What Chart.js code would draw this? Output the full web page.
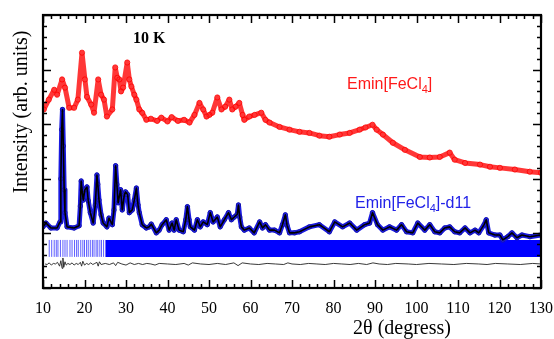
<!DOCTYPE html>
<html>
<head>
<meta charset="utf-8">
<script src="https://cdn.jsdelivr.net/npm/chart.js@4.4.1/dist/chart.umd.min.js"></script>
<style>
  html, body { margin: 0; padding: 0; background: #fff; }
</style>
</head>
<body>
<canvas id="xrdChart" width="554" height="339"></canvas>
<script>
// 2-theta / intensity (arb. units)

const xTicks = [10, 20, 30, 40, 50, 60, 70, 80, 90, 100, 110, 120, 130];

// Emin[FeCl4] (red, open circles)
const redX = [10.2, 11.4, 12.7, 13.4, 14.6, 15.3, 16.3, 17.5, 18.4, 19.4, 20.1, 20.6, 21.6, 22.3, 23.3, 24.0, 24.7, 25.4, 26.7, 27.4, 27.9, 28.4, 28.8, 29.3, 30.3, 30.8, 31.3, 32.0, 32.5, 33.2, 33.9, 34.9, 36.0, 37.5, 38.5, 40.0, 41.0, 42.5, 44.0, 45.3, 46.5, 47.7, 48.6, 49.4, 50.1, 50.8, 52.0, 53.0, 53.9, 54.9, 55.6, 56.4, 57.3, 58.1, 58.5, 59.7, 61.0, 62.6, 63.6, 64.6, 67.0, 69.4, 71.8, 74.2, 76.6, 79.0, 81.5, 83.9, 86.3, 87.7, 89.4, 90.4, 91.9, 94.3, 97.2, 100.8, 103.2, 105.6, 108.0, 109.2, 111.7, 115.3, 117.7, 120.1, 123.7, 127.3, 130];
const redY = [3.27, 3.45, 3.63, 3.54, 3.82, 3.67, 3.30, 3.30, 3.45, 4.31, 3.82, 3.50, 3.36, 3.21, 3.82, 3.54, 3.45, 3.14, 3.27, 4.04, 3.85, 3.82, 3.60, 3.67, 4.13, 3.82, 3.69, 3.54, 3.45, 3.27, 3.21, 3.08, 3.10, 3.06, 3.12, 3.05, 3.13, 3.06, 3.08, 3.03, 3.17, 3.39, 3.27, 3.14, 3.17, 3.21, 3.49, 3.27, 3.32, 3.45, 3.27, 3.32, 3.39, 3.17, 3.08, 3.14, 3.17, 3.21, 3.08, 3.03, 2.95, 2.90, 2.86, 2.84, 2.79, 2.77, 2.81, 2.84, 2.90, 2.94, 2.99, 2.90, 2.81, 2.66, 2.53, 2.40, 2.39, 2.40, 2.48, 2.35, 2.29, 2.26, 2.22, 2.20, 2.17, 2.13, 2.11];

// Emin[FeCl4]-d11 (blue observed, black calculated)
const blueX = [10.0, 10.7, 11.9, 13.4, 14.1, 14.3, 14.5, 14.7, 14.9, 15.1, 15.3, 15.8, 17.5, 18.7, 19.0, 19.2, 19.4, 19.7, 20.1, 20.6, 20.9, 21.4, 22.1, 22.6, 23.0, 23.2, 23.5, 24.0, 24.5, 25.4, 25.9, 26.7, 27.1, 27.5, 27.8, 28.1, 28.7, 29.1, 29.6, 29.9, 30.4, 30.8, 31.5, 32.0, 32.5, 32.9, 33.2, 33.9, 34.9, 35.6, 36.1, 37.3, 38.0, 38.7, 39.7, 40.4, 41.1, 41.6, 42.1, 42.8, 43.8, 44.4, 44.8, 45.2, 45.5, 46.5, 47.2, 47.9, 48.6, 49.6, 50.3, 51.0, 52.0, 52.7, 53.7, 54.7, 55.4, 56.1, 56.8, 57.1, 57.4, 57.8, 58.5, 59.7, 60.9, 62.2, 62.9, 63.6, 64.6, 65.8, 67.0, 67.7, 68.4, 68.8, 69.4, 70.6, 71.8, 74.2, 76.6, 79.0, 80.3, 82.2, 83.9, 85.6, 87.5, 88.7, 89.4, 90.6, 91.9, 93.5, 95.2, 96.4, 97.6, 99.1, 100.3, 102.0, 103.2, 104.4, 105.6, 106.8, 108.0, 109.2, 110.4, 111.7, 112.9, 114.1, 115.0, 116.3, 116.8, 117.4, 118.9, 120.1, 120.8, 122.0, 123.0, 124.2, 125.4, 127.3, 130];
const blueY = [1.12, 1.19, 1.10, 1.10, 1.21, 2.00, 2.90, 3.27, 2.60, 1.80, 1.38, 1.12, 1.10, 1.14, 1.50, 1.96, 1.80, 1.61, 1.80, 1.85, 1.60, 1.38, 1.19, 1.52, 2.07, 1.90, 1.61, 1.34, 1.19, 1.12, 1.28, 1.16, 1.43, 2.24, 1.90, 1.56, 1.80, 1.43, 1.71, 1.76, 1.71, 1.38, 1.43, 1.61, 1.83, 1.52, 1.38, 1.16, 1.10, 1.12, 1.17, 1.01, 1.06, 1.16, 1.25, 1.06, 1.19, 1.06, 1.25, 1.06, 1.03, 1.25, 1.49, 1.25, 1.12, 1.06, 1.25, 1.12, 1.21, 1.16, 1.38, 1.21, 1.30, 1.12, 1.25, 1.38, 1.25, 1.30, 1.35, 1.52, 1.30, 1.12, 1.06, 1.10, 1.01, 1.21, 1.10, 1.16, 1.06, 1.06, 1.01, 1.16, 1.34, 1.15, 1.01, 1.01, 1.03, 1.12, 1.16, 1.03, 1.21, 1.12, 1.19, 1.06, 1.16, 1.19, 1.38, 1.16, 1.06, 1.12, 1.06, 1.16, 1.03, 1.01, 1.19, 1.06, 1.16, 1.03, 1.01, 1.10, 1.12, 1.03, 1.01, 1.10, 1.01, 1.06, 1.01, 1.16, 1.25, 1.01, 0.97, 0.97, 0.88, 0.94, 1.01, 0.92, 0.97, 0.94, 0.97];

// Bragg positions: separate ticks at low angle, then a solid band
const braggPos = [11.5, 12.1, 12.7, 13.2, 13.6, 14.2, 14.8, 15.3, 15.8, 16.5, 17.0, 17.6, 18.1, 18.5, 19.1, 19.6, 20.0, 20.5, 20.9, 21.4, 21.9, 22.3, 22.8, 23.2, 23.7, 24.1, 24.6];
const braggBand = [25.0, 130.0];
const braggLevels = [0.57, 0.88];

// difference curve
const diffX = [10.5, 11, 11.5, 12, 12.5, 13, 13.5, 14, 14.3, 14.6, 14.8, 15.0, 15.3, 15.6, 16, 16.5, 17, 17.5, 18, 18.5, 19, 19.3, 19.6, 20, 20.5, 21, 21.5, 22, 22.5, 23, 23.3, 23.6, 24, 25, 26, 27, 27.5, 28, 29, 30, 31, 32, 33, 34, 35, 36, 37, 38, 40, 42, 44, 45, 46, 48, 50, 52, 54, 56, 57, 58, 60, 62, 64, 66, 68, 69, 70, 72, 74, 76, 78, 80, 82, 84, 86, 88, 89.5, 91, 93, 95, 98, 100, 103, 106, 109, 112, 115, 117, 119, 122, 125, 128, 130];
const diffY = [0.44, 0.43, 0.46, 0.42, 0.45, 0.44, 0.47, 0.40, 0.50, 0.36, 0.55, 0.38, 0.48, 0.42, 0.45, 0.43, 0.46, 0.42, 0.45, 0.43, 0.47, 0.40, 0.49, 0.42, 0.45, 0.43, 0.46, 0.43, 0.45, 0.47, 0.40, 0.48, 0.43, 0.45, 0.43, 0.46, 0.41, 0.47, 0.44, 0.42, 0.46, 0.43, 0.45, 0.43, 0.45, 0.44, 0.42, 0.45, 0.44, 0.43, 0.45, 0.42, 0.46, 0.44, 0.43, 0.45, 0.43, 0.46, 0.41, 0.46, 0.44, 0.43, 0.45, 0.44, 0.43, 0.46, 0.44, 0.43, 0.45, 0.44, 0.43, 0.45, 0.44, 0.43, 0.45, 0.43, 0.46, 0.44, 0.43, 0.45, 0.44, 0.43, 0.45, 0.44, 0.43, 0.45, 0.44, 0.43, 0.45, 0.44, 0.43, 0.45, 0.44];

const SERIF = "'Liberation Serif', 'Times New Roman', serif";
const SANS = "'Liberation Sans', Arial, sans-serif";

function zip(xs, ys) {
  return xs.map((x, i) => ({ x: x, y: ys[i] }));
}

function braggTicks() {
  const pts = [];
  braggPos.forEach((p) => {
    pts.push({ x: p, y: braggLevels[0] });
    pts.push({ x: p, y: braggLevels[1] });
    pts.push({ x: p, y: null });
  });
  return pts;
}

// frame with inward ticks on all four sides
const framePlugin = {
  id: "frame",
  afterDatasetsDraw(chart) {
    const ctx = chart.ctx;
    const a = chart.chartArea;
    const xs = chart.scales.x;
    const ys = chart.scales.y;
    ctx.save();
    ctx.strokeStyle = "#000";
    ctx.lineWidth = 1.5;
    ctx.beginPath();
    for (let i = 0; i <= 60; i++) {
      const v = 10 + i * 2;
      const px = Math.round(xs.getPixelForValue(v)) + 0.5;
      const len = i % 5 === 0 ? 8 : 4;
      ctx.moveTo(px, a.bottom);
      ctx.lineTo(px, a.bottom - len);
      ctx.moveTo(px, a.top);
      ctx.lineTo(px, a.top + len);
    }
    for (let i = 0; i <= 25; i++) {
      const v = i * 0.2;
      const py = Math.round(ys.getPixelForValue(v)) + 0.5;
      const len = i % 5 === 0 ? 8 : 4;
      ctx.moveTo(a.left, py);
      ctx.lineTo(a.left + len, py);
      ctx.moveTo(a.right, py);
      ctx.lineTo(a.right - len, py);
    }
    ctx.stroke();
    ctx.lineWidth = 2.2;
    ctx.strokeRect(a.left, a.top, a.right - a.left, a.bottom - a.top);
    ctx.restore();
  },
  afterDraw(chart) {
    const ctx = chart.ctx;
    ctx.save();
    ctx.textBaseline = "alphabetic";

    ctx.fillStyle = "#000";
    ctx.font = "bold 16px " + SERIF;
    ctx.fillText("10 K", 133, 43);

    // series labels with subscript 4
    const drawLabel = (x, y, color, tail) => {
      ctx.fillStyle = color;
      ctx.font = "16px " + SANS;
      const head = "Emin[FeCl";
      ctx.fillText(head, x, y);
      let cx = x + ctx.measureText(head).width;
      ctx.font = "11px " + SANS;
      ctx.fillText("4", cx, y + 4);
      cx += ctx.measureText("4").width;
      ctx.font = "16px " + SANS;
      ctx.fillText(tail, cx, y);
    };
    drawLabel(347, 89, "#ff1a1a", "]");
    drawLabel(355, 208, "#2323e8", "]-d11");

    // axis titles
    ctx.fillStyle = "#000";
    ctx.font = "20px " + SERIF;
    ctx.textAlign = "center";
    ctx.fillText("2\u03B8 (degress)", 402, 334);

    ctx.translate(22, 112);
    ctx.rotate(-Math.PI / 2);
    ctx.textBaseline = "middle";
    ctx.fillText("Intensity (arb. units)", 0, 0);
    ctx.restore();
  },
};

new Chart(document.getElementById("xrdChart"), {
  type: "line",
  data: {
    datasets: [
      {
        label: "calc",
        data: zip(blueX, blueY),
        borderColor: "#000",
        borderWidth: 1.6,
        borderJoinStyle: "round",
        pointRadius: 0,
      },
      {
        label: "Emin[FeCl4]-d11",
        data: zip(blueX, blueY),
        borderColor: "#1a1ae0",
        borderWidth: 5,
        borderJoinStyle: "round",
        borderCapStyle: "round",
        pointRadius: 2.2,
        pointBackgroundColor: "#2020e8",
        pointBorderColor: "#1010a0",
        pointBorderWidth: 0.8,
      },
      {
        label: "Emin[FeCl4]",
        data: zip(redX, redY),
        borderColor: "rgba(255,20,20,0.85)",
        borderWidth: 5,
        borderJoinStyle: "round",
        borderCapStyle: "round",
        pointRadius: 2.6,
        pointBackgroundColor: "rgba(255,255,255,0)",
        pointBorderColor: "rgba(255,0,0,0.8)",
        pointBorderWidth: 1,
      },
      {
        label: "diff",
        data: zip(diffX, diffY),
        borderColor: "#222",
        borderWidth: 0.9,
        pointRadius: 0,
      },
      {
        label: "bragg",
        data: braggTicks(),
        borderColor: "rgba(40,40,255,0.75)",
        borderWidth: 1,
        pointRadius: 0,
        spanGaps: false,
      },
      {
        label: "bragg band",
        data: braggBand.map((x) => ({ x: x, y: braggLevels[1] })),
        borderWidth: 0,
        borderColor: "rgba(0,0,0,0)",
        backgroundColor: "#0000ff",
        pointRadius: 0,
        fill: { value: braggLevels[0] },
      },
    ],
  },
  options: {
    responsive: false,
    animation: false,
    devicePixelRatio: 1,
    layout: { padding: { top: 15, right: 13, left: 0, bottom: 0 } },
    plugins: {
      legend: { display: false },
      tooltip: { enabled: false },
    },
    scales: {
      x: {
        type: "linear",
        min: 10,
        max: 130,
        afterBuildTicks: (s) => {
          s.ticks = xTicks.map((v) => ({ value: v }));
        },
        ticks: {
          color: "#000",
          font: { family: SERIF, size: 16 },
          padding: 11,
          maxRotation: 0,
          autoSkip: false,
        },
        grid: { display: false, drawTicks: false },
        border: { display: false },
        afterFit: (s) => {
          s.height = 51;
          s.paddingLeft = 0;
          s.paddingRight = 0;
        },
      },
      y: {
        min: 0,
        max: 5,
        ticks: { display: false },
        grid: { display: false, drawTicks: false },
        border: { display: false },
        afterFit: (s) => {
          s.width = 43;
        },
      },
    },
  },
  plugins: [framePlugin],
});
</script>
</body>
</html>
